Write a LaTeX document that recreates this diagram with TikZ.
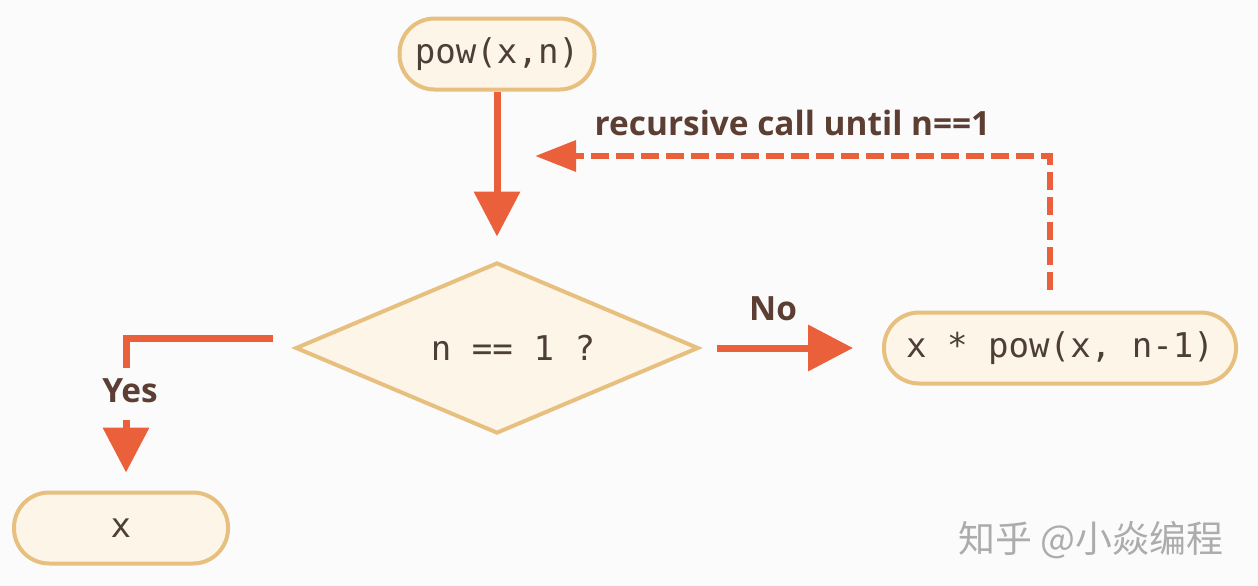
\documentclass[tikz,border=0pt]{standalone}
\usepackage{fontspec}
\usepackage{tikz}
\usetikzlibrary{shapes.geometric,arrows.meta}
\setmainfont{Open Sans}
\newfontfamily\codefont{DejaVu Sans Mono}
\newfontfamily\cjkfont{Noto Sans CJK SC}
\definecolor{arrowred}{RGB}{233,96,58}
\definecolor{boxfill}{RGB}{253,246,232}
\definecolor{boxline}{RGB}{231,192,128}
\definecolor{codetext}{RGB}{78,62,56}
\definecolor{labeltext}{RGB}{92,62,50}
\definecolor{bgcol}{RGB}{251,251,252}
\definecolor{wmarkgray}{RGB}{172,172,172}

\begin{document}
\begin{tikzpicture}[
  box/.style={draw=boxline, fill=boxfill, rectangle, rounded corners=0.7cm, line width=0.08cm, minimum height=1.42cm, text=codetext, font=\codefont\fontsize{19.4}{23}\selectfont},
  cond/.style={draw=boxline, fill=boxfill, diamond, aspect=2.36, line width=0.08cm, minimum width=8.06cm, minimum height=3.42cm, inner sep=0pt, text=codetext, font=\codefont\fontsize{19.4}{23}\selectfont},
  line/.style={draw=arrowred, line width=0.14cm},
  arrow/.style={line, -{Triangle[length=0.9cm, width=0.9cm]}},
  dasharrow/.style={draw=arrowred, line width=0.13cm, dash pattern=on 0.36cm off 0.14cm, -{Triangle[length=0.82cm, width=0.6cm]}},
  lbl/.style={text=labeltext, font=\bfseries\fontsize{19}{23}\selectfont},
  wmark/.style={text=wmarkgray, font=\cjkfont\fontsize{21}{25}\selectfont}
]
\fill[bgcol] (0,0) rectangle (25.16,-11.72);

\node[box, minimum width=3.9cm, xshift=9.94cm, yshift=-1.08cm] (pow) {pow(x,n)};
\node[cond, xshift=9.94cm, yshift=-6.96cm] (test) {\hspace{0.64cm}n == 1 ?};
\node[box, minimum width=7.04cm, xshift=21.2cm, yshift=-6.96cm] (step) {x * pow(x, n-1)};
\node[box, minimum width=4.28cm, xshift=2.42cm, yshift=-10.56cm] (result) {x};
\node[wmark, xshift=21.82cm, yshift=-10.8cm] (zhihu) {知乎 @小焱编程};

\coordinate (back) at (10.7,-3.12);
\coordinate (yesbend) at (2.52,-7.36);

\draw[arrow, shorten >=0.48cm] (pow) -- (test);
\draw[arrow, shorten <=0.32cm, shorten >=0.58cm] (test) -- node[lbl, pos=0.4, yshift=0.78cm] (no) {No} (step);
\draw[dasharrow, shorten <=0.42cm] ([xshift=-0.2cm]step.north) |- node[lbl, pos=0.75, yshift=0.66cm] (again) {recursive call until n==1} (back);
\draw[line] ([xshift=-0.42cm, yshift=0.2cm]test.west) -| (yesbend) node[lbl, below=0.02cm, xshift=0.08cm] (yes) {Yes};
\draw[arrow, shorten <=0.16cm, shorten >=0.36cm] (yes.south -| yesbend) -- (yesbend |- result.north);
\end{tikzpicture}
\end{document}
